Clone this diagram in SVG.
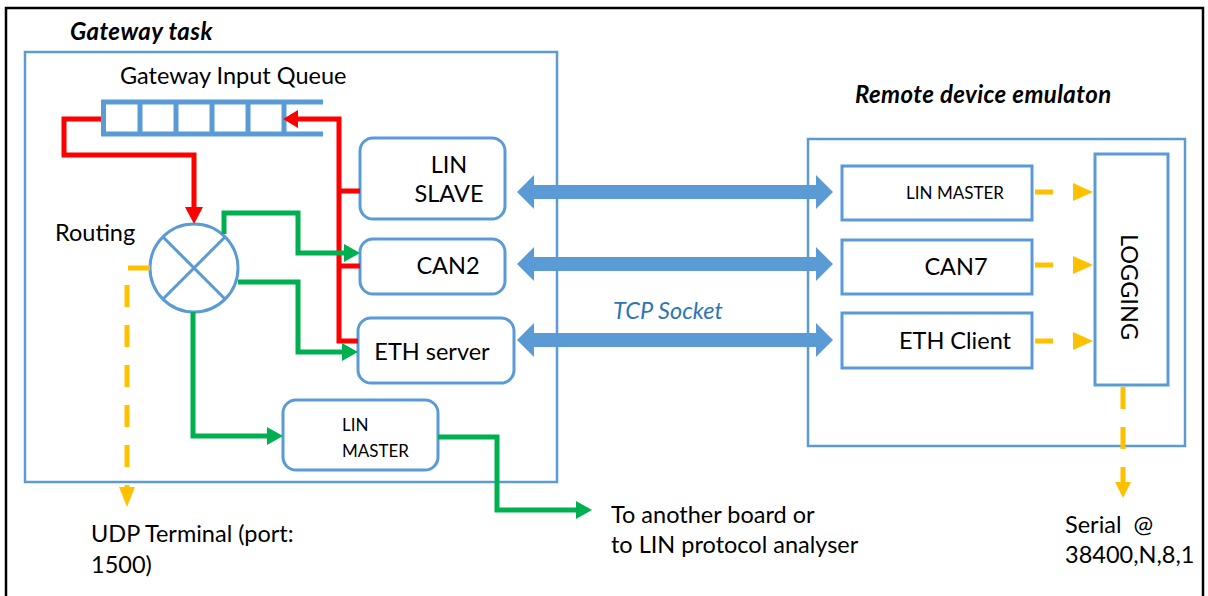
<svg xmlns="http://www.w3.org/2000/svg" width="1208" height="596" viewBox="0 0 1208 596">
  <style>
    text { font-family: Lato, "Liberation Sans", sans-serif; fill: #000; }
    .t22 { font-size: 23.5px; }
    .t18 { font-size: 17px; }
    .title { font-size: 24px; font-weight: bold; font-style: italic; letter-spacing: 0.4px; }
    .tcp { font-size: 23.5px; font-style: italic; fill: #2E75B6; }
    .frame { fill: none; stroke: #5B9BD5; stroke-width: 2.5; }
    .node { fill: #fff; stroke: #5B9BD5; stroke-width: 3; }
    .red { fill: none; stroke: #FF0000; stroke-width: 5; }
    .green { fill: none; stroke: #00B050; stroke-width: 5; }
    .yellow { fill: none; stroke: #FFC000; stroke-width: 5; stroke-dasharray: 22 18; }
    .bus { fill: #5B9BD5; }
  </style>

  <!-- outer frame -->
  <rect x="6" y="8" width="1197" height="600" fill="#fff" stroke="#000" stroke-width="2.5"/>

  <!-- containers -->
  <g id="gateway-task">
    <rect class="frame" x="25" y="52" width="532" height="430"/>
    <text class="title" x="70" y="40">Gateway task</text>
  </g>
  <g id="remote-device">
    <rect class="frame" x="808" y="139" width="377" height="307"/>
    <text class="title" x="855" y="103">Remote device emulaton</text>
  </g>

  <!-- input queue -->
  <g id="input-queue">
    <text class="t22" x="120" y="84">Gateway Input Queue</text>
    <g stroke="#5B9BD5" stroke-width="5" fill="none">
      <path d="M101,102 H323 M101,134 H323"/>
      <path d="M103.5,102 V134 M140,102 V134 M176,102 V134 M212,102 V134 M248,102 V134 M284,102 V134"/>
    </g>
  </g>

  <!-- routing element -->
  <g id="routing">
    <text class="t22" x="55" y="241">Routing</text>
    <circle cx="194" cy="268" r="44" fill="#fff" stroke="#5B9BD5" stroke-width="3"/>
    <path d="M163,237 L225,299 M225,237 L163,299" stroke="#5B9BD5" stroke-width="3"/>
  </g>

  <!-- gateway nodes -->
  <g id="lin-slave">
    <rect class="node" x="360" y="138" width="145" height="81" rx="13"/>
    <text class="t22" x="449" y="173" text-anchor="middle">LIN</text>
    <text class="t22" x="449" y="202" text-anchor="middle">SLAVE</text>
  </g>
  <g id="can2">
    <rect class="node" x="360" y="239" width="145" height="55" rx="13"/>
    <text class="t22" x="448" y="274" text-anchor="middle">CAN2</text>
  </g>
  <g id="eth-server">
    <rect class="node" x="358" y="318" width="156" height="65" rx="13"/>
    <text class="t22" x="432" y="360" text-anchor="middle">ETH server</text>
  </g>
  <g id="lin-master-gw">
    <rect class="node" x="283" y="400" width="155" height="70" rx="13"/>
    <text class="t18" x="342" y="431">LIN</text>
    <text class="t18" x="342" y="457">MASTER</text>
  </g>

  <!-- emulator nodes -->
  <g id="lin-master-remote">
    <rect class="node" x="842" y="166" width="190" height="54"/>
    <text class="t18" x="955" y="199" text-anchor="middle">LIN MASTER</text>
  </g>
  <g id="can7">
    <rect class="node" x="842" y="240" width="190" height="54"/>
    <text class="t22" x="956" y="275" text-anchor="middle">CAN7</text>
  </g>
  <g id="eth-client">
    <rect class="node" x="842" y="313" width="190" height="55"/>
    <text class="t22" x="955" y="349" text-anchor="middle">ETH Client</text>
  </g>
  <g id="logging">
    <rect class="node" x="1095" y="154" width="73" height="231"/>
    <text class="t22" transform="translate(1130,287) rotate(90)" text-anchor="middle" dominant-baseline="central">LOGGING</text>
  </g>

  <!-- free labels -->
  <g id="labels">
    <text class="tcp" x="613" y="319">TCP Socket</text>
    <text class="t22" x="91" y="542">UDP Terminal (port:</text>
    <text class="t22" x="91" y="573">1500)</text>
    <text class="t22" x="611" y="523">To another board or</text>
    <text class="t22" x="611" y="553">to LIN protocol analyser</text>
    <text class="t22" x="1065" y="533" xml:space="preserve">Serial  @</text>
    <text class="t22" x="1065" y="563">38400,N,8,1</text>
  </g>

  <!-- connectors -->
  <g id="connectors">
    <!-- queue feedback (red) -->
    <path class="red" d="M101,119 H64 V155 H194 V208"/>
    <polygon fill="#FF0000" points="185,207 203,207 194,224"/>
    <path class="red" d="M360,191 H339 M360,266 H339 M358,341 H339 V119 H297"/>
    <polygon fill="#FF0000" points="298,110 298,128 283,119"/>

    <!-- routed frames (green) -->
    <path class="green" d="M224,234 V213 H298 V253 H345"/>
    <polygon fill="#00B050" points="344,244 344,262 360,253"/>
    <path class="green" d="M238,282 H298 V352 H343"/>
    <polygon fill="#00B050" points="342,343 342,361 358,352"/>
    <path class="green" d="M193,312 V436 H268"/>
    <polygon fill="#00B050" points="267,427 267,445 283,436"/>
    <path class="green" d="M438,437 H497 V510 H577"/>
    <polygon fill="#00B050" points="576,501 576,519 592,510"/>

    <!-- logging outputs (yellow, dashed) -->
    <path class="yellow" d="M150,268 H127 V487"/>
    <polygon fill="#FFC000" points="119,487 135,487 127,507"/>
    <path class="yellow" d="M1123,387 V482"/>
    <polygon fill="#FFC000" points="1115,482 1131,482 1123,498"/>
    <g fill="#FFC000">
      <rect x="1035" y="189.5" width="18" height="5"/>
      <polygon points="1073,183 1093,192 1073,201"/>
      <rect x="1035" y="262.5" width="18" height="5"/>
      <polygon points="1073,256 1093,265 1073,274"/>
      <rect x="1035" y="338.5" width="18" height="5"/>
      <polygon points="1073,332 1093,341 1073,350"/>
    </g>

    <!-- TCP links (blue, two-way) -->
    <polygon class="bus" points="517,192 534,175 534,185 816,185 816,175 833,192 816,209 816,199 534,199 534,209"/>
    <polygon class="bus" points="517,264 534,247 534,257 816,257 816,247 833,264 816,281 816,271 534,271 534,281"/>
    <polygon class="bus" points="517,340 534,323 534,333 816,333 816,323 833,340 816,357 816,347 534,347 534,357"/>
  </g>
</svg>
